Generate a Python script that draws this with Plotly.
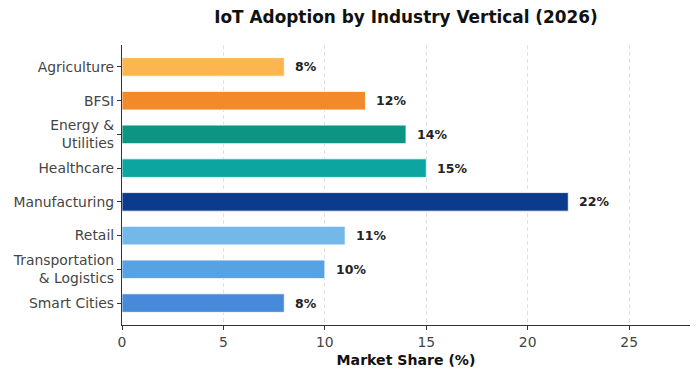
import plotly.graph_objects as go

categories = ["Smart Cities", "Transportation<br>& Logistics", "Retail", "Manufacturing",
              "Healthcare", "Energy &<br>Utilities", "BFSI", "Agriculture"]
values = [8, 10, 11, 22, 15, 14, 12, 8]
colors = ["#488ADA", "#57A2E2", "#72B8E9", "#0C3A8C", "#0CA59F", "#0C9582", "#F28A2A", "#FDB54F"]
x_ticks = [0, 5, 10, 15, 20, 25]

ypos = list(range(len(categories)))

fig = go.Figure()
fig.add_trace(go.Bar(
    x=values, y=ypos, orientation="h", width=0.55,
    marker=dict(color=colors, line=dict(color="white", width=0.8)),
    hoverinfo="skip",
))

annotations = []
for v, yp in zip(values, ypos):
    annotations.append(dict(x=v, y=yp, text=f"<b>{v}%</b>", showarrow=False,
                            xanchor="left", yanchor="middle", xshift=9,
                            font=dict(family="DejaVu Sans", size=12.5, color="#222222")))

fig.update_layout(
    width=700, height=380,
    margin=dict(l=122, r=10, t=45, b=55, autoexpand=False),
    paper_bgcolor="white", plot_bgcolor="white",
    showlegend=False,
    title=dict(text="<b>IoT Adoption by Industry Vertical (2026)</b>", x=0.5, xref="paper",
               xanchor="center", y=0.955, yanchor="middle",
               font=dict(family="DejaVu Sans", size=16.9, color="#111111")),
    annotations=annotations,
    font=dict(family="DejaVu Sans", color="#444444"),
)
fig.update_xaxes(
    range=[0, 28], tickvals=x_ticks, ticktext=[str(t) for t in x_ticks],
    showgrid=True, gridcolor="#E0E0E0", griddash="4px,3px", gridwidth=1,
    showline=True, linecolor="#333333", linewidth=1.2,
    ticks="outside", ticklen=4, tickcolor="#333333",
    tickfont=dict(size=13.9, color="#444444"),
    title=dict(text="<b>Market Share (%)</b>", font=dict(size=14.1, color="#111111"), standoff=6),
    zeroline=False, automargin=False,
)
fig.update_yaxes(
    range=[-0.65, 7.65], tickvals=ypos, ticktext=categories,
    showgrid=False, showline=True, linecolor="#333333", linewidth=1.2,
    ticks="outside", ticklen=4, tickcolor="#333333",
    tickfont=dict(size=13.9, color="#444444"),
    zeroline=False, automargin=False,
)
fig.write_html("out.html", config={"displayModeBar": False},
               post_script="document.body.style.margin='0';")
